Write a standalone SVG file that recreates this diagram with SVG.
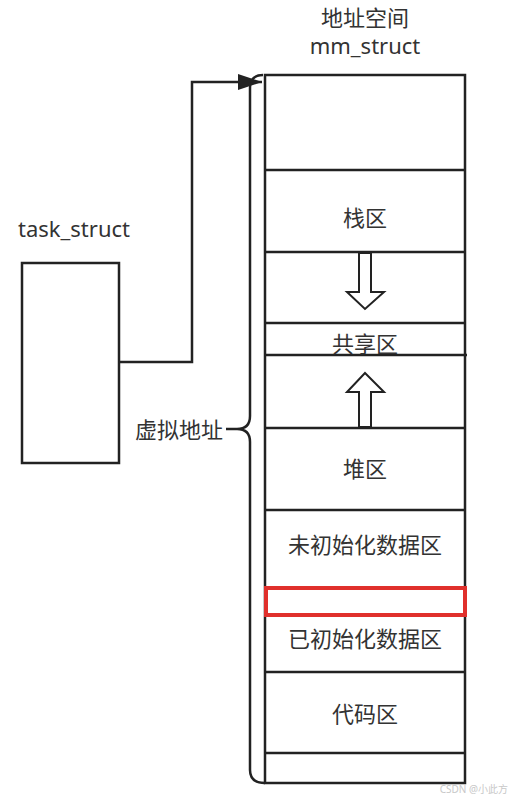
<svg xmlns="http://www.w3.org/2000/svg" width="512" height="802" viewBox="0 0 512 802">
<style>
.ln{fill:none;stroke:#222;stroke-width:2.5}
.box{fill:#fff;stroke:#222;stroke-width:2.5}
.t{font-family:"Noto Sans","Noto Sans CJK SC",sans-serif;font-size:22px;fill:#333;text-anchor:middle}
.c{font-family:"Noto Sans CJK SC","Noto Sans",sans-serif;font-size:22px;fill:#333;text-anchor:middle}
.hollow{fill:#fff;stroke:#222;stroke-width:2}
</style>
<defs>
<marker id="ah" viewBox="0 0 24 16" refX="24" refY="8" markerWidth="24" markerHeight="16" markerUnits="userSpaceOnUse" orient="auto">
<path d="M0,0 L24,8 L0,16 Z" fill="#222"/>
</marker>
</defs>
<rect width="512" height="802" fill="#fff"/>

<g id="title">
<text class="c" x="365" y="26">地址空间</text>
<text class="t" x="365" y="54">mm_struct</text>
</g>

<g id="task_struct">
<text class="t" x="74" y="237">task_struct</text>
<rect class="box" x="22" y="263" width="97" height="200"/>
</g>

<g id="mm_struct">
<rect class="box" x="265" y="75" width="200" height="708"/>
<line class="ln" x1="265" y1="170" x2="465" y2="170"/>
<line class="ln" x1="265" y1="252" x2="465" y2="252"/>
<line class="ln" x1="265" y1="323" x2="465" y2="323"/>
<line class="ln" x1="265" y1="355" x2="467" y2="355"/>
<line class="ln" x1="265" y1="428" x2="465" y2="428"/>
<line class="ln" x1="265" y1="510" x2="465" y2="510"/>
<line class="ln" x1="265" y1="672" x2="465" y2="672"/>
<line class="ln" x1="265" y1="753" x2="465" y2="753"/>
</g>

<g id="stack"><text class="c" x="365" y="226">栈区</text></g>
<g id="stack_arrow"><polygon class="hollow" points="359,253 371,253 371,292 384,292 365,309 347,292 359,292"/></g>
<g id="shared"><text class="c" x="365" y="352">共享区</text></g>
<g id="heap_arrow"><polygon class="hollow" points="365,373 384,392 371,392 371,427 359,427 359,392 347,392"/></g>
<g id="heap"><text class="c" x="365" y="477">堆区</text></g>
<g id="bss"><text class="c" x="365" y="553">未初始化数据区</text></g>
<g id="highlight"><rect x="266" y="588" width="199" height="27" fill="none" stroke="#e0302c" stroke-width="4"/></g>
<g id="data"><text class="c" x="365" y="647">已初始化数据区</text></g>
<g id="text_seg"><text class="c" x="365" y="722">代码区</text></g>

<g id="brace">
<path class="ln" d="M263,75 Q250,75 250,88 V416 Q250,429 237,429 H226 M237,429 Q250,429 250,442 V770 Q250,783 265,783"/>
<text class="c" x="223" y="438" style="text-anchor:end">虚拟地址</text>
</g>

<g id="connectors">
<path class="ln" d="M119,362 H192 V82 H262" marker-end="url(#ah)"/>
</g>

<text x="508" y="793" style="font-family:'Noto Sans','Noto Sans CJK SC',sans-serif;font-size:10px;fill:#c8c8c8;text-anchor:end">CSDN @小此方</text>
</svg>
